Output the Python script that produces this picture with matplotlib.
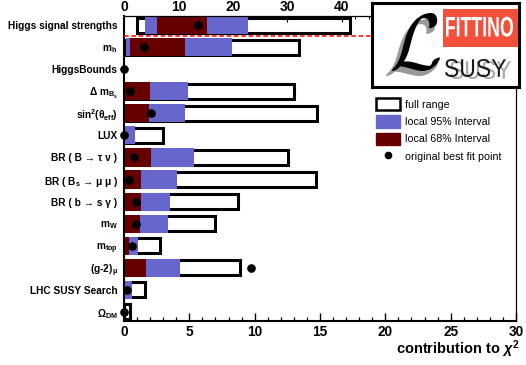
import numpy as np
import matplotlib
matplotlib.use("Agg")
import matplotlib.pyplot as plt
from matplotlib.patches import Rectangle, Patch, PathPatch
from matplotlib.lines import Line2D
from matplotlib.textpath import TextPath
from matplotlib.font_manager import FontProperties
from matplotlib.transforms import Affine2D
from matplotlib.ticker import MultipleLocator

plt.rcParams['font.family'] = ['Liberation Sans', 'DejaVu Sans']
plt.rcParams['mathtext.fontset'] = 'custom'
plt.rcParams['mathtext.rm'] = 'Liberation Sans:bold'
plt.rcParams['mathtext.it'] = 'Liberation Sans:italic:bold'
plt.rcParams['mathtext.bf'] = 'Liberation Sans:bold'
plt.rcParams['mathtext.sf'] = 'Liberation Sans:bold'

# Observables, top to bottom. The first one uses the upper (0-72) scale.
observables = [
    "Higgs signal strengths",
    r"m$_\mathrm{h}$",
    "HiggsBounds",
    r"Δ m$_{\mathrm{B}_\mathrm{s}}$",
    r"sin$^\mathrm{2}$(θ$_\mathrm{eff}$)",
    "LUX",
    "BR ( B → τ ν )",
    r"BR ( B$_\mathrm{s}$ → μ μ )",
    "BR ( b → s γ )",
    r"m$_\mathrm{W}$",
    r"m$_\mathrm{top}$",
    r"(g-2)$_\mathrm{μ}$",
    "LHC SUSY Search",
    r"Ω$_\mathrm{DM}$",
]
nan = np.nan
full_lo = [2.4, 0, nan, 0, 0, 0, 0, 0, 0, 0, 0, 0, 0, 0]
full_hi = [41.6, 13.4, nan, 13.0, 14.8, 3.0, 12.55, 14.7, 8.7, 7.0, 2.75, 8.9, 1.6, 0.45]
ci95_lo = [3.9, 0.15, nan, 0, 0, 0, 0, 0, 0, 0, 0, 0, 0, nan]
ci95_hi = [22.7, 8.3, nan, 4.9, 4.7, 0.85, 5.35, 4.05, 3.5, 3.35, 1.05, 4.3, 0.6, nan]
ci68_lo = [6.0, 0.45, nan, 0, 0, nan, 0, 0, 0, 0, 0, 0, nan, nan]
ci68_hi = [15.2, 4.7, nan, 2.0, 1.9, nan, 2.05, 1.3, 1.3, 1.2, 0.4, 1.7, nan, nan]
best_fit = [13.5, 1.55, 0.0, 0.45, 2.1, 0.0, 0.75, 0.4, 0.9, 0.9, 0.6, 9.7, 0.2, 0.0]

top_ticks = [0, 10, 20, 30, 40, 50, 60, 70]
top_tick_labels = ['0', '10', '20', '30', '40', '', '', '']

BLUE = '#6666CC'
DARKRED = '#660000'

W, H = 526, 365
fig = plt.figure(figsize=(W / 100, H / 100), dpi=100)
ax = fig.add_axes([124 / W, 1 - 321 / H, 392 / W, 305 / H])
ax.set_xlim(0, 30)
ax.set_ylim(13.41, -0.41)
ax2 = ax.twiny()
ax2.set_xlim(0, 72)

BAR_H = 0.82
BOX_LW = 2.2
BOX_H = BAR_H - (BOX_LW / 72 * 100) / 22.08


def draw_row(a, i):
    if not np.isnan(full_hi[i]):
        a.add_patch(Rectangle((full_lo[i], i - BOX_H / 2), full_hi[i] - full_lo[i], BOX_H,
                              fc='white', ec='black', lw=BOX_LW, joinstyle='miter', zorder=1.5))
    if not np.isnan(ci95_hi[i]):
        a.add_patch(Rectangle((ci95_lo[i], i - BAR_H / 2), ci95_hi[i] - ci95_lo[i], BAR_H,
                              fc=BLUE, ec='none', zorder=2))
    if not np.isnan(ci68_hi[i]):
        a.add_patch(Rectangle((ci68_lo[i], i - BAR_H / 2), ci68_hi[i] - ci68_lo[i], BAR_H,
                              fc=DARKRED, ec='none', zorder=2.2))
    a.plot([best_fit[i]], [i], 'o', ms=5.2, color='black', zorder=5, clip_on=False)


draw_row(ax2, 0)
for i in range(1, len(observables)):
    draw_row(ax, i)

# separator between the Higgs rate row and the rest
ax.axhline(0.5, color='#FF0000', lw=1.1, ls=(0, (3, 1.8)), zorder=3)

# y labels
ax.set_yticks(range(len(observables)))
ax.set_yticklabels(observables, fontsize=7.3, fontweight='bold')
ax.tick_params(axis='y', length=0, pad=4.7)

# bottom axis
ax.xaxis.set_major_locator(MultipleLocator(5))
ax.xaxis.set_minor_locator(MultipleLocator(1))
ax.tick_params(axis='x', which='major', direction='in', length=6, width=1,
               labelsize=9.8, pad=3)
ax.tick_params(axis='x', which='minor', direction='in', length=3.2, width=0.9)
for lab in ax.get_xticklabels():
    lab.set_fontweight('bold')

# top axis
ax2.set_xticks(top_ticks)
ax2.set_xticklabels(top_tick_labels, fontsize=10, fontweight='bold')
ax2.xaxis.set_minor_locator(MultipleLocator(2.5))
ax2.tick_params(axis='x', which='major', direction='in', length=4, width=0.8, pad=1.5)
ax2.tick_params(axis='x', which='minor', direction='in', length=2.5, width=0.7)

ax.spines['top'].set_visible(False)
ax.spines['left'].set_linewidth(1.5)
ax.spines['bottom'].set_linewidth(1.5)
ax.spines['right'].set_linewidth(0.9)
for s in ('bottom', 'left', 'right'):
    ax2.spines[s].set_visible(False)
ax2.spines['top'].set_linewidth(0.9)

fig.text(520 / W, 1 - 349 / H, r"contribution to $\chi^\mathrm{2}$", ha='right', va='center',
         fontsize=10.5, fontweight='bold')

# legend
handles = [
    Patch(fc='white', ec='black', lw=1.8, label='full range'),
    Patch(fc=BLUE, ec=BLUE, label='local 95% Interval'),
    Patch(fc=DARKRED, ec=DARKRED, label='local 68% Interval'),
    Line2D([], [], marker='o', ls='none', color='black', ms=4.5, label='original best fit point'),
]
fig.legend(handles=handles, loc='upper left', bbox_to_anchor=(376 / W, 1 - 98 / H),
           frameon=False, fontsize=7.7, handlelength=2.2, handleheight=1.4,
           handletextpad=0.5, labelspacing=0.47, borderpad=0, borderaxespad=0)

# logo
lax = fig.add_axes([372 / W, 1 - 87 / H, 147 / W, 84 / H])
lax.set_xlim(0, 147)
lax.set_ylim(84, 0)
lax.set_xticks([])
lax.set_yticks([])
lax.set_facecolor('white')
for s in lax.spines.values():
    s.set_linewidth(2.2)
    s.set_color('black')


def fit_path(path, x0, x1, ytop, ybot):
    ext = path.get_extents()
    sx = (x1 - x0) / ext.width
    sy = (ybot - ytop) / ext.height
    tr = Affine2D().translate(-ext.x0, -ext.y1).scale(sx, -sy).translate(x0, ytop)
    return tr.transform_path(path)


lax.add_patch(Rectangle((70.7, 6), 76, 38, fc='#F2503A', ec='none'))
bold = FontProperties(family='Liberation Sans', weight='bold')
plain = FontProperties(family='Liberation Sans')
p = TextPath((0, 0), "FITTINO", prop=bold, size=20)
lax.add_patch(PathPatch(fit_path(p, 74, 141, 13.7, 33.7), fc='white', ec='none'))

p = TextPath((0, 0), "SUSY", prop=plain, size=20)
lax.add_patch(PathPatch(fit_path(p, 78, 139, 58, 76), fc='#A8A8A8', ec='none'))
lax.add_patch(PathPatch(fit_path(p, 73, 134, 56, 74), fc='#1A1A1A', ec='none'))

with plt.rc_context({'mathtext.fontset': 'cm'}):
    pL = TextPath((0, 0), r"$\mathcal{L}$", size=40)
lax.add_patch(PathPatch(fit_path(pL, 14, 66, 16, 73), fc='#999999', ec='none'))
lax.add_patch(PathPatch(fit_path(pL, 20, 68, 10, 68), fc='black', ec='none'))

fig.savefig('out.png', dpi=100)
